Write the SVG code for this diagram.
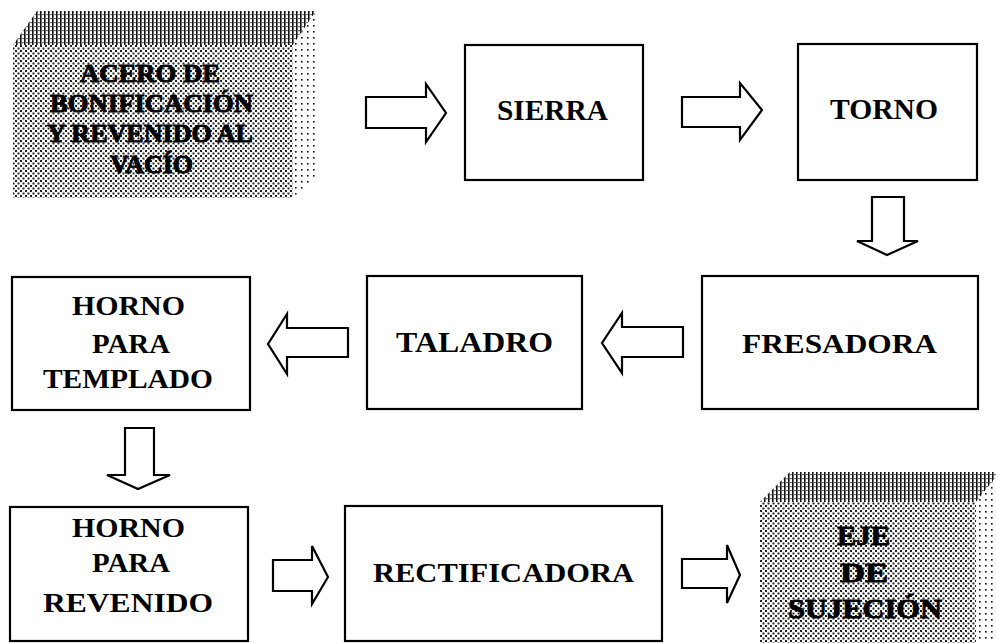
<svg xmlns="http://www.w3.org/2000/svg" width="996" height="643" viewBox="0 0 996 643">
<defs>
<pattern id="pFront" width="5" height="5" patternUnits="userSpaceOnUse">
<rect width="5" height="5" fill="#fff"/>
<rect x="0" y="0" width="2" height="2" fill="#222"/>
<rect x="2.5" y="2.5" width="2" height="2" fill="#222"/>
</pattern>
<pattern id="pTop" width="4" height="4" patternUnits="userSpaceOnUse">
<rect width="4" height="4" fill="#fff"/>
<rect x="0" y="0" width="1.6" height="4" fill="#111"/>
<rect x="2.4" y="2" width="1.2" height="1.2" fill="#111"/>
</pattern>
<pattern id="pSide" width="6" height="6" patternUnits="userSpaceOnUse">
<rect width="6" height="6" fill="#fff"/>
<rect x="1" y="1" width="1.6" height="1.6" fill="#111"/>
</pattern>
<style>
.box{fill:#fff;stroke:#000;stroke-width:2.2}
.arr{fill:#fff;stroke:#000;stroke-width:2.2;stroke-linejoin:miter}
.t{font-family:"Liberation Serif","Times New Roman",serif;font-weight:bold;fill:#000}
.ts{font-family:"Liberation Serif","Times New Roman",serif;font-weight:bold;fill:#000;stroke:#000;stroke-width:0.9}
.front{fill:url(#pFront)}
.top{fill:url(#pTop)}
.side{fill:url(#pSide)}
</style>
</defs>

<g id="connectors">
<path class="arr" d="M366,97 H426 V84 L446,113 L426,142 V128 H366 Z"/>
<path class="arr" d="M682,97 H740 V83 L762,110 L740,140 V127 H682 Z"/>
<path class="arr" d="M872,197 H904 V241 H918 L887,255 L857,241 H872 Z"/>
<path class="arr" d="M683,327 H622 V313 L602,343 L622,373 V357 H683 Z"/>
<path class="arr" d="M348,328 H287 V314 L268,344 L287,374 V357 H348 Z"/>
<path class="arr" d="M125,428 H154 V475 H170 L138,489 L107,475 H125 Z"/>
<path class="arr" d="M273,560 H312 V546 L328,577 L312,604 V591 H273 Z"/>
<path class="arr" d="M682,559 H727 V545 L740,575 L727,603 V588 H682 Z"/>
</g>

<g id="acero">
<polygon class="front" points="13,45 293,45 293,198 13,198"/>
<polygon class="top" points="13,45 37,11 316,11 293,45"/>
<polygon class="side" points="293,45 316,11 316,177 293,198"/>
<text class="ts" font-size="26" x="80" y="82" textLength="140" lengthAdjust="spacingAndGlyphs">ACERO DE</text>
<text class="ts" font-size="26" x="50" y="112" textLength="203" lengthAdjust="spacingAndGlyphs">BONIFICACIÓN</text>
<text class="ts" font-size="26" x="47" y="142" textLength="206" lengthAdjust="spacingAndGlyphs">Y REVENIDO AL</text>
<text class="ts" font-size="26" x="110" y="173" textLength="83" lengthAdjust="spacingAndGlyphs">VACÍO</text>
</g>

<g id="sierra">
<rect class="box" x="465" y="45" width="178" height="135"/>
<text class="t" font-size="29" x="497" y="120" textLength="111" lengthAdjust="spacingAndGlyphs">SIERRA</text>
</g>

<g id="torno">
<rect class="box" x="798" y="44" width="179" height="136"/>
<text class="t" font-size="29" x="830" y="119" textLength="108" lengthAdjust="spacingAndGlyphs">TORNO</text>
</g>

<g id="fresadora">
<rect class="box" x="702" y="276" width="276" height="133"/>
<text class="t" font-size="27" x="742" y="353" textLength="195" lengthAdjust="spacingAndGlyphs">FRESADORA</text>
</g>

<g id="taladro">
<rect class="box" x="367" y="276" width="215" height="133"/>
<text class="t" font-size="29" x="396" y="352" textLength="157" lengthAdjust="spacingAndGlyphs">TALADRO</text>
</g>

<g id="horno-templado">
<rect class="box" x="12" y="277" width="238" height="133"/>
<text class="t" font-size="27" x="72" y="315" textLength="113" lengthAdjust="spacingAndGlyphs">HORNO</text>
<text class="t" font-size="27" x="92" y="353" textLength="78" lengthAdjust="spacingAndGlyphs">PARA</text>
<text class="t" font-size="27" x="43" y="388" textLength="170" lengthAdjust="spacingAndGlyphs">TEMPLADO</text>
</g>

<g id="horno-revenido">
<rect class="box" x="10" y="507" width="238" height="134"/>
<text class="t" font-size="27" x="72" y="537" textLength="113" lengthAdjust="spacingAndGlyphs">HORNO</text>
<text class="t" font-size="27" x="92" y="572" textLength="78" lengthAdjust="spacingAndGlyphs">PARA</text>
<text class="t" font-size="27" x="43" y="612" textLength="170" lengthAdjust="spacingAndGlyphs">REVENIDO</text>
</g>

<g id="rectificadora">
<rect class="box" x="345" y="506" width="317" height="135"/>
<text class="t" font-size="27" x="373" y="582" textLength="261" lengthAdjust="spacingAndGlyphs">RECTIFICADORA</text>
</g>

<g id="eje">
<polygon class="front" points="760,502 976,502 976,643 760,643"/>
<polygon class="top" points="760,502 790,472 1000,472 976,502"/>
<polygon class="side" points="976,502 1000,472 1000,643 976,643"/>
<text class="ts" font-size="28" x="837" y="545" textLength="53" lengthAdjust="spacingAndGlyphs">EJE</text>
<text class="ts" font-size="28" x="840" y="582" textLength="48" lengthAdjust="spacingAndGlyphs">DE</text>
<text class="ts" font-size="28" x="788" y="618" textLength="154" lengthAdjust="spacingAndGlyphs">SUJECIÓN</text>
</g>
</svg>
